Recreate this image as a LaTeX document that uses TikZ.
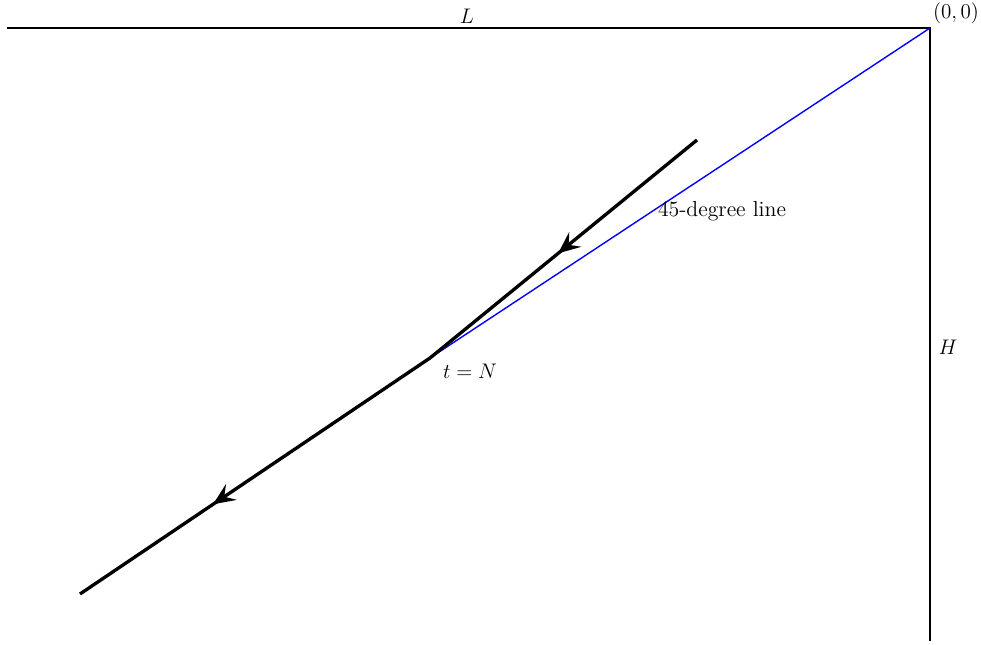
\documentclass[tikz,border=0pt]{standalone}
\usetikzlibrary{arrows.meta,decorations.markings}
\begin{document}
\begin{tikzpicture}[x=0.02cm,y=-0.02cm,
  axis/.style={line width=0.8pt},
  diag/.style={blue,line width=0.8pt},
  path/.style={line width=1.9pt,line cap=butt},
  midarrow/.style={postaction={decorate},decoration={markings,
    mark=at position #1 with {\arrow{Stealth[length=4.4mm,width=3.8mm,inset=1.7mm]}}}},
  lbl/.style={inner sep=0pt,font=\fontsize{12.4pt}{15pt}\selectfont}]
\useasboundingbox (0,0) rectangle (981,645);
\coordinate (O) at (930,28);
\coordinate (Lend) at (7,28);
\coordinate (Hend) at (930,641);
\coordinate (N) at (430,358);
\coordinate (S) at (697,140);
\coordinate (E) at (80,594);
\draw[axis] (Lend) -- (O) -- (Hend);
\draw[diag] (O) -- (N);
\draw[path,midarrow=0.52] (S) -- (N);
\draw[path,midarrow=0.62] (N) -- (E);
\node[lbl] (origin) at (956,13) {$(0,0)$};
\node[lbl] (Llab) at (467,16) {$L$};
\node[lbl] (Hlab) at (948,347) {$H$};
\node[lbl] (tN) at (470,371) {$t=N$};
\node[lbl] (deg) at (722,211) {45-degree line};
\end{tikzpicture}
\end{document}
